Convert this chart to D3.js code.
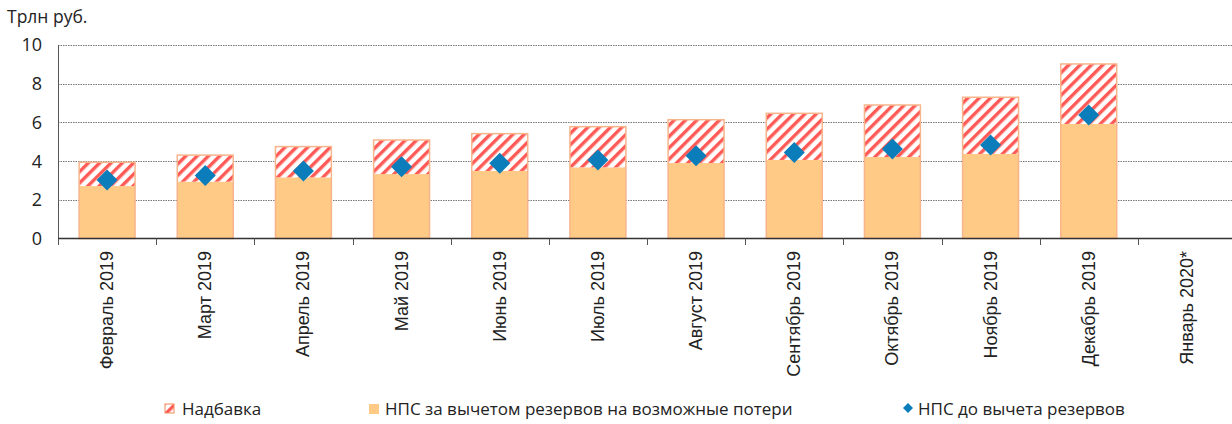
<!DOCTYPE html>
<html><head><meta charset="utf-8">
<script src="https://cdn.jsdelivr.net/npm/d3@7"></script>
<style>
html,body{margin:0;padding:0;background:#fff;}
svg{display:block;}
</style></head>
<body>
<svg id="c" width="1232" height="424"></svg>
<script>
const categories = ["Февраль 2019","Март 2019","Апрель 2019","Май 2019","Июнь 2019","Июль 2019","Август 2019","Сентябрь 2019","Октябрь 2019","Ноябрь 2019","Декабрь 2019","Январь 2020*"];
const netValues = [2.71,2.94,3.16,3.33,3.49,3.68,3.90,4.06,4.21,4.37,5.92,null];
const markupValues = [1.23,1.37,1.59,1.76,1.93,2.10,2.24,2.41,2.69,2.93,3.10,null];
const grossValues = [3.02,3.25,3.49,3.71,3.89,4.06,4.28,4.44,4.63,4.83,6.38,null];
const yTicks = [0,2,4,6,8,10];
const legendLabels = ["Надбавка","НПС за вычетом резервов на возможные потери","НПС до вычета резервов"];

const svg = d3.select("#c");
const font = "'Open Sans', 'Noto Sans', sans-serif";
const x = d3.scaleBand().domain(categories).range([58,1236]).paddingInner(0.43).paddingOuter(0.215);
const y = d3.scaleLinear().domain([0,10]).range([238.5,45]);

const defs = svg.append("defs");
const pat = defs.append("pattern").attr("id","hatch").attr("patternUnits","userSpaceOnUse")
  .attr("width",8).attr("height",8).attr("patternTransform","rotate(45)");
pat.append("rect").attr("width",8).attr("height",8).attr("fill","#fff");
pat.append("rect").attr("x",0).attr("y",0).attr("width",3.4).attr("height",8).attr("fill","#ff5a55");

// gridlines
svg.append("g").selectAll("line").data(yTicks.filter(d=>d>0)).join("line")
  .attr("x1",58).attr("x2",1232).attr("y1",d=>Math.round(y(d))+0.5).attr("y2",d=>Math.round(y(d))+0.5)
  .attr("stroke","#777").attr("stroke-dasharray","1.5,1").attr("stroke-width",1);

// y labels
svg.append("g").selectAll("text").data(yTicks).join("text")
  .attr("x",42).attr("y",d=>y(d)).attr("dy","0.36em").attr("text-anchor","end")
  .attr("font-family",font).attr("font-size",18).attr("fill","#222").text(d=>d);

svg.append("text").attr("x",7).attr("y",23).attr("font-family",font).attr("font-size",17.5).attr("fill","#222").text("Трлн руб.");

const bw = x.bandwidth();
const idx = categories.map((c,i)=>i).filter(i=>netValues[i]!=null);
// base bars
svg.append("g").selectAll("rect").data(idx).join("rect")
  .attr("x",i=>x(categories[i])).attr("width",bw)
  .attr("y",i=>y(netValues[i])).attr("height",i=>y(0)-y(netValues[i]))
  .attr("fill","#ffc986");
// markup
svg.append("g").selectAll("rect").data(idx).join("rect")
  .attr("x",i=>x(categories[i])).attr("width",bw)
  .attr("y",i=>y(netValues[i]+markupValues[i])).attr("height",i=>y(netValues[i])-y(netValues[i]+markupValues[i]))
  .attr("fill","url(#hatch)");
// outline
svg.append("g").selectAll("rect").data(idx).join("rect")
  .attr("x",i=>x(categories[i])).attr("width",bw)
  .attr("y",i=>y(netValues[i]+markupValues[i])).attr("height",i=>y(0)-y(netValues[i]+markupValues[i]))
  .attr("fill","none").attr("stroke","#f7b58c").attr("stroke-width",1.5);

// diamonds
const sym = d3.symbol().type(d3.symbolSquare).size(220);
svg.append("g").selectAll("path").data(idx).join("path")
  .attr("d",sym)
  .attr("transform",i=>`translate(${x(categories[i])+bw/2},${y(grossValues[i])}) rotate(45)`)
  .attr("fill","#0a7dba");

// axes
svg.append("line").attr("x1",58.5).attr("x2",58.5).attr("y1",45).attr("y2",238.5).attr("stroke","#555").attr("stroke-width",1);
svg.append("line").attr("x1",58).attr("x2",1232).attr("y1",238.5).attr("y2",238.5).attr("stroke","#333").attr("stroke-width",1.5);
const step = x.step();
const bounds = d3.range(categories.length+1).map(k=>58+k*step);
svg.append("g").selectAll("line").data(bounds).join("line")
  .attr("x1",d=>Math.round(d)+0.5).attr("x2",d=>Math.round(d)+0.5).attr("y1",238.5).attr("y2",245)
  .attr("stroke","#555").attr("stroke-width",1);

// x labels
svg.append("g").selectAll("text").data(categories).join("text")
  .attr("transform",d=>`translate(${x(d)+bw/2+6},251) rotate(-90)`)
  .attr("text-anchor","end")
  .attr("font-family","'Liberation Sans', Arial, sans-serif").attr("font-size",18).attr("fill","#222").text(d=>d);

// legend
const lg = svg.append("g").attr("font-family",font).attr("font-size",17).attr("fill","#222");
lg.append("rect").attr("x",165).attr("y",404).attr("width",9).attr("height",9).attr("fill","url(#hatch)").attr("stroke","#f08a5a").attr("stroke-width",1);
lg.append("text").attr("x",182).attr("y",409).attr("dy","0.36em").text(legendLabels[0]);
lg.append("rect").attr("x",369).attr("y",404).attr("width",10).attr("height",10).attr("fill","#ffc986");
lg.append("text").attr("x",385).attr("y",409).attr("dy","0.36em").text(legendLabels[1]);
lg.append("path").attr("d",d3.symbol().type(d3.symbolSquare).size(50)).attr("transform","translate(908,408) rotate(45)").attr("fill","#0a7dba");
lg.append("text").attr("x",918).attr("y",409).attr("dy","0.36em").text(legendLabels[2]);
</script>
</body></html>
